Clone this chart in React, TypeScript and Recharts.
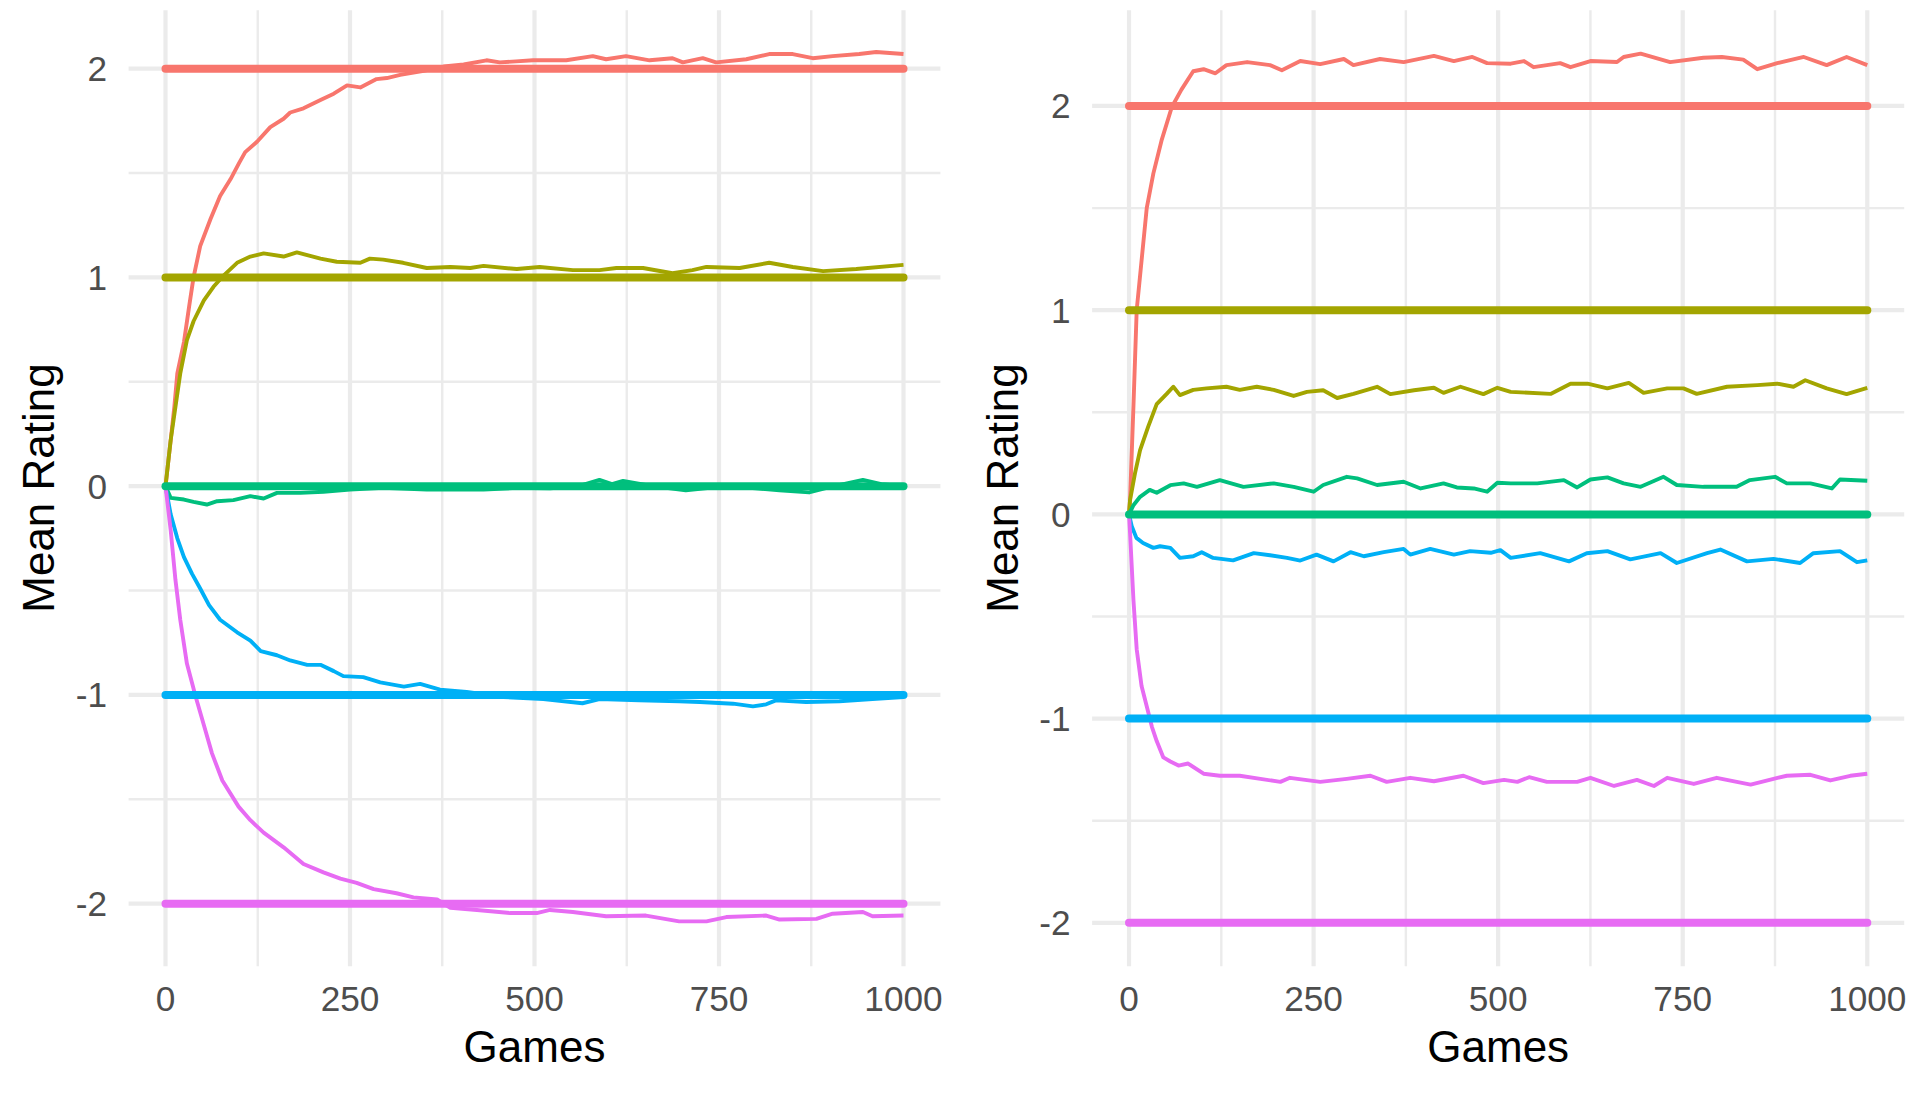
import React from 'react'
import { LineChart, Line, XAxis, YAxis, CartesianGrid } from 'recharts'

// ggplot default hue palette, one colour per player
const COLORS = ['#F8766D', '#A3A500', '#00BF7D', '#00B0F6', '#E76BF3']
const TRUE_RATINGS = [2, 1, 0, -1, -2]

const X_TICKS = [0, 250, 500, 750, 1000]
const X_MINOR = [125, 375, 625, 875]
const Y_TICKS = [-2, -1, 0, 1, 2]
const Y_MINOR = [-1.5, -0.5, 0.5, 1.5]

// left panel: [game, mean rating]
const L_RED: [number, number][] = [
  [0, 0], [7, 0.22], [12, 0.38], [16, 0.54], [25, 0.69], [32, 0.86], [38, 1.0], [47, 1.15], [61, 1.28],
  [74, 1.39], [88, 1.47], [100, 1.55], [108, 1.6], [124, 1.65], [142, 1.72], [160, 1.76], [169, 1.79],
  [187, 1.81], [210, 1.85], [228, 1.88], [246, 1.92], [264, 1.91], [286, 1.95], [300, 1.955], [318, 1.97],
  [350, 1.99], [377, 2.01], [404, 2.02], [435, 2.04], [453, 2.03], [475, 2.035], [498, 2.04], [521, 2.04],
  [543, 2.04], [579, 2.06], [597, 2.045], [624, 2.06], [656, 2.04], [687, 2.05], [701, 2.03], [728, 2.05],
  [746, 2.03], [787, 2.045], [818, 2.07], [850, 2.07], [877, 2.05], [904, 2.06], [940, 2.07], [963, 2.08],
  [1000, 2.07],
]
const L_OLIVE: [number, number][] = [
  [0, 0], [7, 0.22], [13.5, 0.38], [20, 0.54], [29, 0.7], [38, 0.79], [52, 0.89], [65, 0.955], [79, 1.01],
  [97, 1.07], [115, 1.1], [133, 1.115], [160, 1.1], [178, 1.12], [210, 1.09], [232, 1.075], [264, 1.07],
  [277, 1.09], [295, 1.085], [322, 1.07], [354, 1.045], [386, 1.05], [413, 1.045], [431, 1.055], [476, 1.04],
  [507, 1.05], [552, 1.035], [588, 1.035], [611, 1.045], [647, 1.045], [687, 1.02], [714, 1.035], [733, 1.05],
  [778, 1.045], [818, 1.07], [850, 1.05], [891, 1.03], [936, 1.04], [1000, 1.06],
]
const L_GREEN: [number, number][] = [
  [0, 0], [7, -0.056], [25, -0.064], [38, -0.075], [56, -0.088], [70, -0.072], [92, -0.067], [115, -0.048],
  [133, -0.059], [151, -0.032], [183, -0.032], [214, -0.027], [250, -0.016], [295, -0.008], [354, -0.016],
  [431, -0.016], [476, -0.008], [521, -0.01], [560, 0.0], [588, 0.03], [605, 0.01], [620, 0.025], [660, 0.0],
  [705, -0.02], [760, 0.0], [800, -0.01], [832, -0.02], [872, -0.03], [900, -0.005], [945, 0.03], [970, 0.01],
  [1000, 0.0],
]
const L_BLUE: [number, number][] = [
  [0, 0], [7, -0.135], [16, -0.25], [25, -0.34], [36, -0.42], [47, -0.49], [59, -0.57], [74, -0.64],
  [97, -0.7], [115, -0.74], [129, -0.79], [151, -0.81], [169, -0.835], [192, -0.856], [210, -0.856],
  [228, -0.886], [241, -0.91], [268, -0.915], [291, -0.94], [323, -0.96], [345, -0.947], [372, -0.975],
  [408, -0.986], [458, -1.01], [512, -1.02], [565, -1.04], [588, -1.02], [642, -1.026], [696, -1.03],
  [724, -1.034], [769, -1.042], [796, -1.055], [814, -1.045], [827, -1.026], [868, -1.034], [913, -1.03],
  [958, -1.02], [1000, -1.01],
]
const L_PINK: [number, number][] = [
  [0, 0], [7, -0.21], [13.5, -0.45], [20, -0.64], [29, -0.85], [41, -1.01], [50, -1.12], [63, -1.28],
  [77, -1.41], [99, -1.535], [115, -1.6], [133, -1.66], [160, -1.73], [187, -1.81], [214, -1.85],
  [237, -1.88], [259, -1.9], [282, -1.93], [313, -1.95], [336, -1.97], [368, -1.98], [386, -2.02],
  [422, -2.03], [467, -2.045], [503, -2.045], [521, -2.03], [552, -2.04], [597, -2.06], [651, -2.057],
  [696, -2.085], [733, -2.085], [760, -2.064], [814, -2.057], [832, -2.076], [882, -2.073], [904, -2.048],
  [945, -2.04], [958, -2.06], [1000, -2.057],
]

// right panel
const R_RED: [number, number][] = [
  [0, 0], [1.4, 0.07], [6, 0.53], [10.4, 1.0], [24, 1.5], [33, 1.67], [44, 1.83], [58, 1.995], [71, 2.08],
  [87, 2.17], [101, 2.18], [117, 2.16], [132, 2.2], [160, 2.215], [191, 2.2], [207, 2.175], [232, 2.22],
  [259, 2.205], [291, 2.23], [304, 2.2], [340, 2.23], [372, 2.215], [413, 2.245], [440, 2.22], [465, 2.24],
  [485, 2.21], [517, 2.207], [535, 2.22], [548, 2.19], [584, 2.21], [598, 2.19], [625, 2.22], [661, 2.215],
  [670, 2.24], [693, 2.256], [733, 2.215], [778, 2.236], [803, 2.24], [832, 2.227], [851, 2.18], [878, 2.21],
  [914, 2.24], [945, 2.2], [972, 2.24], [1000, 2.2],
]
const R_OLIVE: [number, number][] = [
  [0, 0], [1.4, 0.07], [8, 0.2], [15, 0.315], [26, 0.43], [37.5, 0.54], [51, 0.59], [60, 0.625], [69, 0.584],
  [87, 0.61], [105, 0.617], [132, 0.625], [150, 0.61], [173, 0.625], [196, 0.61], [223, 0.58], [241, 0.6],
  [263, 0.608], [282, 0.57], [304, 0.59], [336, 0.625], [354, 0.589], [386, 0.608], [413, 0.62], [426, 0.595],
  [449, 0.625], [480, 0.589], [499, 0.62], [517, 0.6], [571, 0.59], [598, 0.64], [621, 0.64], [648, 0.617],
  [677, 0.644], [697, 0.595], [729, 0.617], [751, 0.617], [769, 0.59], [810, 0.625], [851, 0.633], [878, 0.64],
  [900, 0.625], [916, 0.657], [945, 0.617], [972, 0.589], [1000, 0.62],
]
const R_GREEN: [number, number][] = [
  [0, 0], [6, 0.045], [15, 0.086], [28, 0.12], [37.5, 0.106], [56, 0.143], [74, 0.152], [92, 0.135],
  [123, 0.168], [155, 0.135], [196, 0.152], [223, 0.135], [250, 0.111], [263, 0.144], [295, 0.184],
  [309, 0.176], [336, 0.144], [372, 0.16], [395, 0.127], [426, 0.152], [444, 0.132], [467, 0.127],
  [485, 0.111], [499, 0.155], [517, 0.152], [553, 0.152], [589, 0.168], [607, 0.132], [625, 0.171],
  [648, 0.181], [670, 0.152], [693, 0.135], [724, 0.184], [742, 0.144], [778, 0.135], [823, 0.135],
  [841, 0.168], [875, 0.184], [891, 0.152], [923, 0.152], [952, 0.127], [963, 0.171], [1000, 0.165],
]
const R_BLUE: [number, number][] = [
  [0, 0], [3.6, -0.057], [10, -0.115], [19, -0.14], [33, -0.164], [42, -0.156], [56, -0.164], [69, -0.213],
  [87, -0.205], [98.5, -0.185], [114, -0.213], [141, -0.225], [169, -0.19], [191, -0.2], [214, -0.213],
  [232, -0.226], [254, -0.197], [277, -0.23], [300, -0.185], [318, -0.205], [345, -0.185], [372, -0.169],
  [381, -0.197], [408, -0.169], [440, -0.197], [462, -0.18], [490, -0.188], [503, -0.175], [517, -0.213],
  [557, -0.19], [596, -0.23], [620, -0.19], [648, -0.18], [679, -0.22], [720, -0.19], [742, -0.238],
  [783, -0.19], [801, -0.172], [837, -0.23], [873, -0.218], [909, -0.238], [927, -0.19], [963, -0.18],
  [986, -0.234], [1000, -0.225],
]
const R_PINK: [number, number][] = [
  [0, 0], [1.4, -0.09], [6, -0.42], [10.4, -0.66], [17, -0.84], [24, -0.94], [31, -1.04], [37.5, -1.11],
  [46.5, -1.19], [56, -1.21], [67, -1.23], [80, -1.22], [101, -1.27], [123, -1.28], [150, -1.28],
  [178, -1.295], [205, -1.31], [218, -1.29], [259, -1.31], [295, -1.295], [327, -1.28], [349, -1.31],
  [381, -1.29], [413, -1.307], [453, -1.28], [480, -1.316], [508, -1.3], [526, -1.31], [542, -1.287],
  [566, -1.31], [607, -1.31], [625, -1.29], [657, -1.33], [688, -1.3], [711, -1.33], [729, -1.29],
  [765, -1.32], [796, -1.29], [842, -1.323], [873, -1.295], [891, -1.28], [923, -1.275], [950, -1.303],
  [977, -1.28], [1000, -1.27],
]

const FONT = '"Liberation Sans", Arial, Helvetica, sans-serif'
const GRID = '#EBEBEB'

const toPts = (arr: [number, number][]) => arr.map(([g, v]) => ({ g, v }))

type PanelProps = {
  left: number
  width: number
  yAxisWidth: number
  marginRight: number
  yDomain: [number, number]
  series: [number, number][][]
}

function Panel({ left, width, yAxisWidth, marginRight, yDomain, series }: PanelProps) {
  const tick = { fill: '#4D4D4D', fontSize: 35.2, fontFamily: FONT }
  return (
    <div style={{ position: 'absolute', left, top: 0 }}>
      <LineChart width={width} height={1096} margin={{ top: 10.2, right: marginRight, bottom: 69.7, left: 0 }}>
        <CartesianGrid horizontalValues={Y_MINOR} verticalValues={X_MINOR} stroke={GRID} strokeWidth={2.4} />
        <CartesianGrid horizontalValues={Y_TICKS} verticalValues={X_TICKS} stroke={GRID} strokeWidth={4.2} />
        <XAxis
          type="number"
          dataKey="g"
          domain={[-50, 1050]}
          ticks={X_TICKS}
          axisLine={false}
          tickLine={false}
          tickSize={0}
          tickMargin={20}
          height={60}
          tick={tick}
          allowDataOverflow
        />
        <YAxis
          type="number"
          domain={yDomain}
          ticks={Y_TICKS}
          axisLine={false}
          tickLine={false}
          tickSize={0}
          tickMargin={21.5}
          width={yAxisWidth}
          tick={tick}
          allowDataOverflow
        />
        {series.map((s, i) => (
          <Line
            key={`est-${i}`}
            data={toPts(s)}
            dataKey="v"
            type="linear"
            stroke={COLORS[i]}
            strokeWidth={3.9}
            strokeLinejoin="round"
            dot={false}
            activeDot={false}
            isAnimationActive={false}
          />
        ))}
        {TRUE_RATINGS.map((r, i) => (
          <Line
            key={`true-${i}`}
            data={[{ g: X_TICKS[0], v: r }, { g: X_TICKS[X_TICKS.length - 1], v: r }]}
            dataKey="v"
            type="linear"
            stroke={COLORS[i]}
            strokeWidth={8}
            strokeLinecap="round"
            dot={false}
            activeDot={false}
            isAnimationActive={false}
          />
        ))}
      </LineChart>
    </div>
  )
}

export default function App() {
  return (
    <div style={{ position: 'relative', width: 1927, height: 1096, background: '#fff', fontFamily: FONT }}>
      <style>{'body{margin:0}'}</style>
      <Panel
        left={0}
        width={960}
        yAxisWidth={128.6}
        marginRight={19.6}
        yDomain={[-2.3, 2.28]}
        series={[L_RED, L_OLIVE, L_GREEN, L_BLUE, L_PINK]}
      />
      <Panel
        left={963}
        width={964}
        yAxisWidth={129.1}
        marginRight={22.8}
        yDomain={[-2.213, 2.469]}
        series={[R_RED, R_OLIVE, R_GREEN, R_BLUE, R_PINK]}
      />
      <svg
        width={1927}
        height={1096}
        style={{ position: 'absolute', left: 0, top: 0, pointerEvents: 'none' }}
      >
        <g fontFamily={FONT} fontSize={44} fill="#000">
          <text x={534.5} y={1062} textAnchor="middle">Games</text>
          <text x={1498.2} y={1062} textAnchor="middle">Games</text>
          <text x={54} y={488} textAnchor="middle" transform="rotate(-90 54 488)">Mean Rating</text>
          <text x={1017.5} y={488} textAnchor="middle" transform="rotate(-90 1017.5 488)">Mean Rating</text>
        </g>
      </svg>
    </div>
  )
}
